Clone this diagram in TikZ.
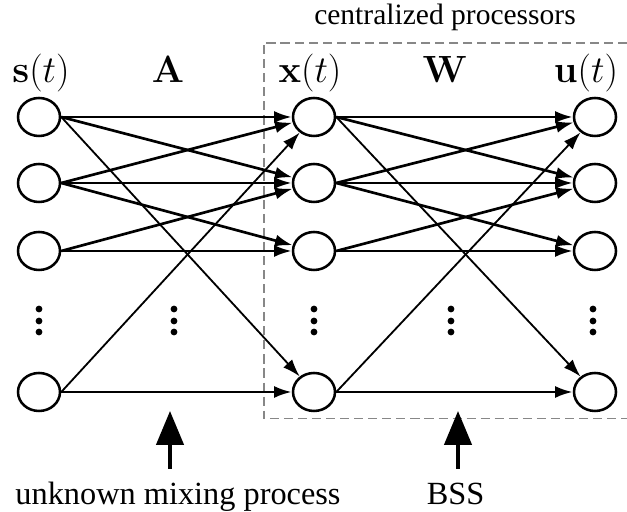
\RequirePackage{fix-cm}
\documentclass[tikz,border=0pt]{standalone}
\usepackage[no-math]{fontspec}
\setmainfont{LiberationSerif}[Extension=.ttf, UprightFont=*-Regular, BoldFont=*-Bold]
\usetikzlibrary{positioning, shapes.geometric, arrows.meta}

\begin{document}
\begin{tikzpicture} [neuron/.style={ellipse, draw, line width=1.8pt, minimum width=1.05cm, minimum height=0.95cm, inner sep=0pt},
  link/.style={line width=1.9pt, -{Latex[length=0.44cm, width=0.3cm]}},
  longlink/.style={line width=1.3pt, -{Latex[length=0.44cm, width=0.3cm]}},
  vec/.style={font=\fontsize{27}{30}\selectfont, anchor=base},
  caption/.style={font=\rmfamily\fontsize{23}{26}\selectfont, anchor=base},
  bigarrow/.style={line width=2.8pt, -{Triangle[length=0.85cm, width=0.68cm]}},
  frame/.style={draw=black!47, line width=1.4pt, dash pattern=on 6.5pt off 3.5pt}]
  \useasboundingbox (0,0) rectangle (15.675,12.8);

  % processor box, open to the right
  \draw[frame] (15.675,11.725) -- (6.59,11.725) -- (6.59,2.3375) -- (15.675,2.3375);
  \draw (11.125,12.175) node[caption, font=\rmfamily\fontsize{21}{24}\selectfont] (central) {centralized processors};

  \draw (0.975,9.875) node[neuron] (s1) {};
  \draw (0.975,8.225) node[neuron] (s2) {};
  \draw (0.975,6.525) node[neuron] (s3) {};
  \draw (0.975,3.0) node[neuron] (s4) {};

  \draw (7.85,9.875) node[neuron] (x1) {};
  \draw (7.85,8.225) node[neuron] (x2) {};
  \draw (7.85,6.525) node[neuron] (x3) {};
  \draw (7.85,3.0) node[neuron] (x4) {};

  \draw (14.875,9.875) node[neuron] (u1) {};
  \draw (14.875,8.225) node[neuron] (u2) {};
  \draw (14.875,6.525) node[neuron] (u3) {};
  \draw (14.875,3.0) node[neuron] (u4) {};

  \draw (1.025,10.725) node[vec] (slab) {$\mathbf{s}(t)$};
  \draw (4.2,10.725) node[vec] (alab) {$\mathbf{A}$};
  \draw (7.75,10.725) node[vec] (xlab) {$\mathbf{x}(t)$};
  \draw (11.125,10.725) node[vec] (wlab) {$\mathbf{W}$};
  \draw (14.65,10.725) node[vec] (ulab) {$\mathbf{u}(t)$};

  % mixing A
  \path (s1.east) edge[link] (x1)
        (s1.east) edge[link] (x2)
        (s2.east) edge[link] (x1)
        (s2.east) edge[link] (x2)
        (s2.east) edge[link] (x3)
        (s3.east) edge[link] (x2)
        (s3.east) edge[link] (x3)
        (s4.east) edge[link] (x4);
  \path (s1.east) edge[longlink] (x4)
        (s4.east) edge[longlink] (x1);

  % separation W
  \path (x1.east) edge[link] (u1)
        (x1.east) edge[link] (u2)
        (x2.east) edge[link] (u1)
        (x2.east) edge[link] (u2)
        (x2.east) edge[link] (u3)
        (x3.east) edge[link] (u2)
        (x3.east) edge[link] (u3)
        (x4.east) edge[link] (u4);
  \path (x1.east) edge[longlink] (u4)
        (x4.east) edge[longlink] (u1);

  % vertical dots
  \fill (0.975,5.075) circle (0.085) (0.975,4.775) circle (0.085) (0.975,4.5) circle (0.085);
  \fill (4.35,5.075) circle (0.085) (4.35,4.775) circle (0.085) (4.35,4.5) circle (0.085);
  \fill (7.85,5.075) circle (0.085) (7.85,4.775) circle (0.085) (7.85,4.5) circle (0.085);
  \fill (11.275,5.075) circle (0.085) (11.275,4.775) circle (0.085) (11.275,4.5) circle (0.085);
  \fill (14.825,5.075) circle (0.085) (14.825,4.775) circle (0.085) (14.825,4.5) circle (0.085);

  \draw (4.45,0.175) node[caption] (mix) {unknown mixing process};
  \draw (11.39,0.175) node[caption] (bss) {BSS};
  \coordinate (mixfoot) at (4.25,1.075);
  \coordinate (mixhead) at (4.25,2.525);
  \coordinate (bssfoot) at (11.45,1.075);
  \coordinate (bsshead) at (11.45,2.525);
  \draw[bigarrow] (mixfoot) -- (mixhead);
  \draw[bigarrow] (bssfoot) -- (bsshead);
\end{tikzpicture}
\end{document}
